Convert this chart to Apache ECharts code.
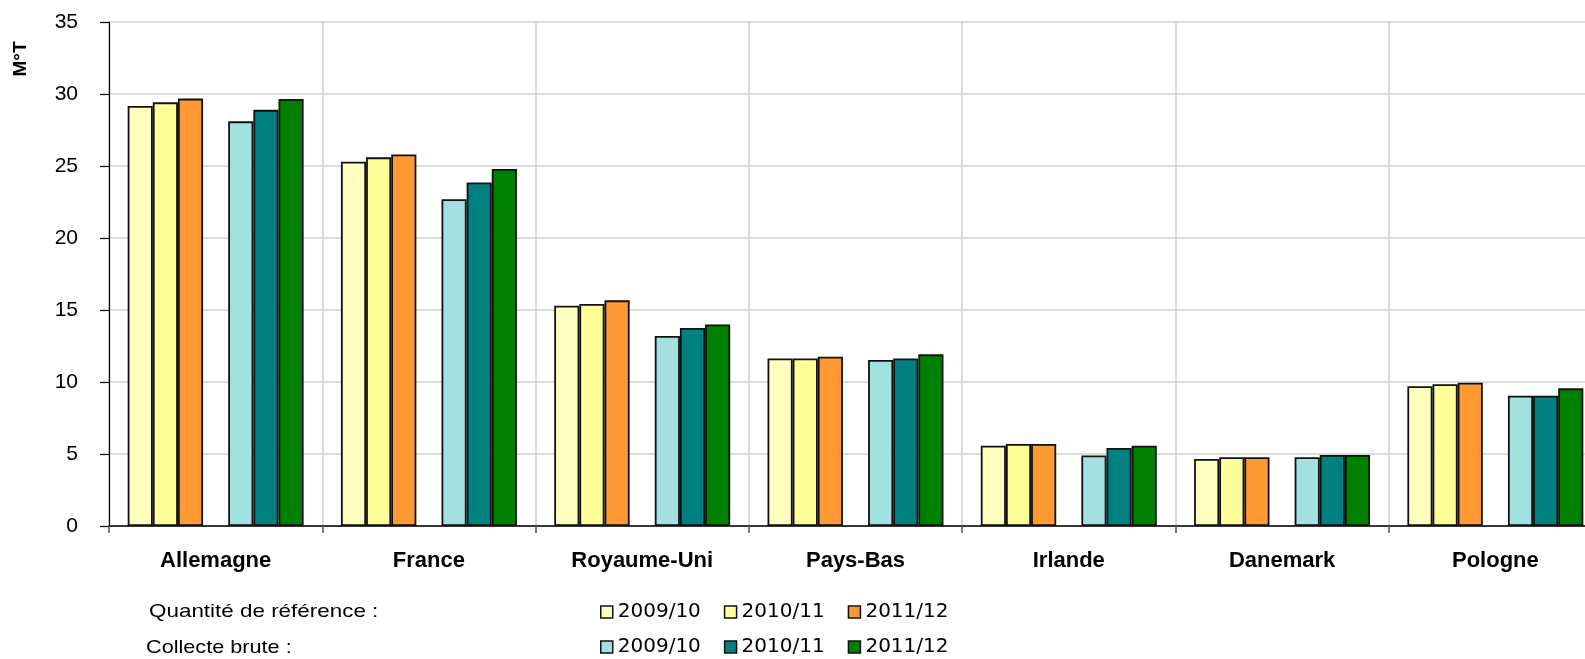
<!DOCTYPE html>
<html>
<head>
<meta charset="utf-8">
<script src="https://cdn.jsdelivr.net/npm/echarts@6/dist/echarts.min.js"></script>
<style>
html,body{margin:0;padding:0;background:#fff;overflow:hidden;}
#chart{width:1585px;height:659px;}
</style>
</head>
<body>
<div id="chart"></div>
<script>
const categories = ['Allemagne','France','Royaume-Uni','Pays-Bas','Irlande','Danemark','Pologne'];
const yearLabels = ['2009/10','2010/11','2011/12'];
const yTicks = [0,5,10,15,20,25,30,35];

const ref0910 = [29.17, 25.3, 15.3, 11.64, 5.58, 4.65, 9.7];
const ref1011 = [29.42, 25.6, 15.42, 11.64, 5.69, 4.77, 9.84];
const ref1112 = [29.68, 25.8, 15.67, 11.76, 5.69, 4.77, 9.95];
const col0910 = [28.1, 22.69, 13.2, 11.53, 4.9, 4.77, 9.05];
const col1011 = [28.9, 23.85, 13.75, 11.64, 5.42, 4.93, 9.05];
const col1112 = [29.65, 24.8, 14.0, 11.92, 5.58, 4.93, 9.56];

const rowLabelRef = 'Quantité de référence :';
const rowLabelCol = 'Collecte brute :';
const yAxisTitle = 'M°T';

const refColors = ['#FFFFC0', '#FFFF99', '#FF9933'];
const colColors = ['#A3E0E0', '#008080', '#008000'];

const FONT = "'Liberation Sans', Arial, sans-serif";
const WIDE = "'DejaVu Sans', 'Liberation Sans', sans-serif";

const refData = [ref0910, ref1011, ref1112];
const colData = [col0910, col1011, col1112];

function mkSeries(prefix, datas, colors) {
  return datas.map((d, i) => ({
    name: prefix + '|' + yearLabels[i],
    type: 'bar',
    data: d,
    barGap: '0%',
    barCategoryGap: '17.5%',
    itemStyle: { color: colors[i], borderColor: '#111', borderWidth: 1.8 },
    emphasis: { disabled: true }
  }));
}

const refSeries = mkSeries('ref', refData, refColors);
const colSeries = mkSeries('col', colData, colColors);
const spacer = {
  name: 'spacer', type: 'bar', data: categories.map(() => null),
  barGap: '0%', barCategoryGap: '17.5%', silent: true
};

const chart = echarts.init(document.getElementById('chart'));
const legendBase = {
  orient: 'horizontal',
  left: 595,
  padding: 5,
  itemWidth: 12,
  itemHeight: 12,
  itemGap: 23,
  icon: 'rect',
  formatter: n => n.split('|')[1],
  itemStyle: { borderColor: '#111', borderWidth: 1.5 },
  textStyle: { fontFamily: WIDE, fontSize: 20, color: '#000', lineHeight: 20 },
  selectedMode: false
};
chart.setOption({
  animation: false,
  backgroundColor: '#fff',
  grid: { left: 109, top: 22, width: 1493, bottom: 133, containLabel: false, outerBoundsMode: 'none' },
  legend: [
    Object.assign({}, legendBase, { top: 597, data: refSeries.map(s => s.name) }),
    Object.assign({}, legendBase, { top: 632, data: colSeries.map(s => s.name) })
  ],
  xAxis: {
    type: 'category',
    data: categories,
    axisLine: { lineStyle: { color: '#000', width: 1.5 } },
    axisTick: { show: true, length: 7, lineStyle: { color: '#555', width: 1.5 } },
    axisLabel: { fontFamily: FONT, fontWeight: 'bold', fontSize: 22, color: '#000', margin: 24 },
    splitLine: { show: true, interval: 0, lineStyle: { color: '#d0d0d0', width: 1.5 } }
  },
  yAxis: {
    type: 'value',
    min: yTicks[0],
    max: yTicks[yTicks.length - 1],
    interval: 5,
    axisLine: { show: true, lineStyle: { color: '#000', width: 1.2 } },
    axisTick: { show: true, length: 9, lineStyle: { color: '#000', width: 1.2 } },
    axisLabel: { fontFamily: FONT, fontSize: 21, color: '#000', margin: 31 },
    splitLine: { show: true, lineStyle: { color: '#d0d0d0', width: 1.5 } }
  },
  series: [...refSeries, spacer, ...colSeries],
  graphic: [
    { type: 'text', x: 21, y: 59, rotation: Math.PI / 2,
      style: { text: yAxisTitle, font: "bold 19px " + FONT, fill: '#000', align: 'center', verticalAlign: 'middle' } },
    { type: 'text', x: 149, y: 612, scaleX: 1.18,
      style: { text: rowLabelRef, font: "19px " + FONT, fill: '#000', align: 'left', verticalAlign: 'middle' } },
    { type: 'text', x: 146, y: 648, scaleX: 1.14,
      style: { text: rowLabelCol, font: "19px " + FONT, fill: '#000', align: 'left', verticalAlign: 'middle' } }
  ]
});
</script>
</body>
</html>
